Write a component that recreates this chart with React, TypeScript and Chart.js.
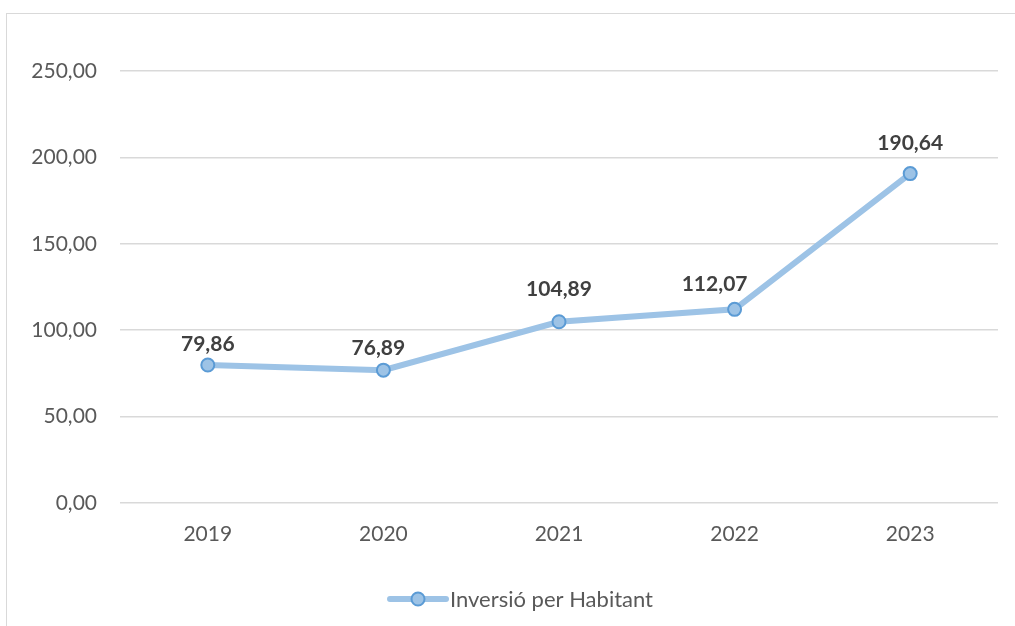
import React, { useEffect, useRef } from 'react';
import { Chart, registerables } from 'chart.js';

Chart.register(...registerables);

const categories = ['2019', '2020', '2021', '2022', '2023'];
const values = [79.86, 76.89, 104.89, 112.07, 190.64];
const seriesName = 'Inversió per Habitant';
const yMin = 0;
const yMax = 250;
const yStep = 50;

// label nudges (Excel manual label placement)
const labelNudgeX = [0, -5, 0, -20, 0];
const labelGap = [14, 15, 26, 18, 24];

const FONT = 'Lato, "Open Sans", sans-serif';
const LINE_COLOR = '#9DC3E6';
const POINT_BORDER = '#5B9BD5';
const TEXT_COLOR = '#595959';
const LABEL_COLOR = '#404040';
const GRID_COLOR = '#D9D9D9';

const fmt = (v: number) => v.toFixed(2).replace('.', ',');

const dataLabelPlugin = {
  id: 'dataLabels',
  afterDatasetsDraw(chart: any) {
    const ctx = chart.ctx;
    const meta = chart.getDatasetMeta(0);
    ctx.save();
    ctx.font = `bold 21px ${FONT}`;
    ctx.fillStyle = LABEL_COLOR;
    ctx.textAlign = 'center';
    ctx.textBaseline = 'alphabetic';
    meta.data.forEach((pt: any, i: number) => {
      ctx.fillText(fmt(values[i]), pt.x + labelNudgeX[i], pt.y - labelGap[i]);
    });
    ctx.restore();
  },
};

const legendPlugin = {
  id: 'customLegend',
  afterDraw(chart: any) {
    const ctx = chart.ctx;
    ctx.save();
    ctx.font = `22px ${FONT}`;
    const tw = ctx.measureText(seriesName).width;
    const lineW = 56;
    const gap = 4;
    const total = lineW + gap + tw;
    const cx = chart.width / 2 + 14;
    const y = chart.height - 27;
    const x0 = cx - total / 2;
    ctx.strokeStyle = LINE_COLOR;
    ctx.lineWidth = 6;
    ctx.lineCap = 'round';
    ctx.beginPath();
    ctx.moveTo(x0, y);
    ctx.lineTo(x0 + lineW, y);
    ctx.stroke();
    ctx.beginPath();
    ctx.arc(x0 + lineW / 2, y, 6.5, 0, Math.PI * 2);
    ctx.fillStyle = LINE_COLOR;
    ctx.fill();
    ctx.lineWidth = 2;
    ctx.strokeStyle = POINT_BORDER;
    ctx.stroke();
    ctx.fillStyle = TEXT_COLOR;
    ctx.textAlign = 'left';
    ctx.textBaseline = 'middle';
    ctx.fillText(seriesName, x0 + lineW + gap, y + 1);
    ctx.restore();
  },
};

export default function App() {
  const ref = useRef<HTMLCanvasElement | null>(null);

  useEffect(() => {
    if (!ref.current) return;
    const chart = new Chart(ref.current, {
      type: 'line',
      data: {
        labels: categories,
        datasets: [
          {
            label: seriesName,
            data: values,
            borderColor: LINE_COLOR,
            borderWidth: 6,
            tension: 0,
            pointRadius: 6.5,
            pointBorderWidth: 2,
            pointBorderColor: POINT_BORDER,
            pointBackgroundColor: LINE_COLOR,
            fill: false,
          },
        ],
      },
      options: {
        responsive: false,
        animation: false,
        layout: { padding: { left: 0, right: 17, top: 71, bottom: 0 } },
        plugins: {
          legend: { display: false },
          tooltip: { enabled: false },
        },
        scales: {
          x: {
            offset: true,
            grid: { display: false, drawTicks: false },
            border: { display: false },
            ticks: {
              color: TEXT_COLOR,
              font: { family: FONT, size: 21 },
              padding: 19,
              maxRotation: 0,
            },
            afterFit(scale: any) {
              scale.height = 123;
            },
          },
          y: {
            min: yMin,
            max: yMax,
            grid: { color: GRID_COLOR, lineWidth: 1.5, drawTicks: false },
            border: { display: false },
            ticks: {
              stepSize: yStep,
              color: TEXT_COLOR,
              font: { family: FONT, size: 21 },
              padding: 23,
              callback: (v: any) => fmt(Number(v)),
            },
            afterFit(scale: any) {
              scale.width = 120;
            },
          },
        },
      },
      plugins: [dataLabelPlugin, legendPlugin],
    });
    return () => chart.destroy();
  }, []);

  return (
    <div style={{ position: 'fixed', left: 0, top: 0, width: 1015, height: 626, background: '#fff', overflow: 'hidden' }}>
      <div
        style={{
          position: 'absolute',
          left: 6,
          top: 13,
          width: 1100,
          height: 700,
          border: `1px solid ${GRID_COLOR}`,
          boxSizing: 'border-box',
        }}
      />
      <canvas ref={ref} width={1015} height={626} style={{ position: 'absolute', left: 0, top: 0, display: 'block' }} />
    </div>
  );
}
